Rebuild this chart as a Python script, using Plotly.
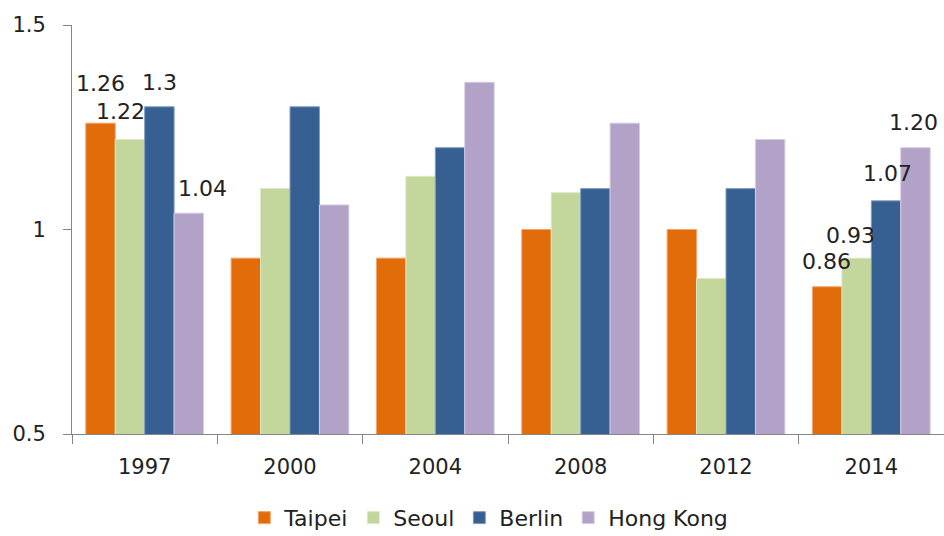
import plotly.graph_objects as go

years = ["1997", "2000", "2004", "2008", "2012", "2014"]
taipei = [1.26, 0.93, 0.93, 1.00, 1.00, 0.86]
seoul = [1.22, 1.10, 1.13, 1.09, 0.88, 0.93]
berlin = [1.30, 1.30, 1.20, 1.10, 1.10, 1.07]
hongkong = [1.04, 1.06, 1.36, 1.26, 1.22, 1.20]

series_names = ["Taipei", "Seoul", "Berlin", "Hong Kong"]
series_vals = [taipei, seoul, berlin, hongkong]
colors = ["#E36C0A", "#C3D69B", "#366092", "#B2A2C7"]
edge_colors = ["#F4A46A", "#DCE8C4", "#7F9CC0", "#D6CCE3"]

labels_1997 = ["1.26", "1.22", "1.3", "1.04"]
labels_2014 = ["0.86", "0.93", "1.07", "1.20"]

FONT = "DejaVu Sans"
W, H = 944, 536
ML, MR, MT, MB = 72, 0, 25, 102
BARGAP = 0.19

fig = go.Figure()
for name, vals, c, ec in zip(series_names, series_vals, colors, edge_colors):
    fig.add_trace(go.Bar(
        x=years, y=vals, name=name,
        marker=dict(color=c, line=dict(color=ec, width=1)),
    ))

# label positions (pixel offsets relative to each bar's centre / top)
plot_w = W - ML - MR
cat_w = plot_w / len(years)
bar_w = cat_w * (1 - BARGAP) / 4
bar_off = [(i - 1.5) * bar_w for i in range(4)]
adj_1997 = [(0, 40), (-9, 28), (0, 24), (14, 25)]
adj_2014 = [(-1, 25), (-6, 23), (1, 27), (-2, 25)]

annotations = []
for i in range(4):
    for yr, lab, adj in (("1997", labels_1997[i], adj_1997[i]),
                         ("2014", labels_2014[i], adj_2014[i])):
        idx = years.index(yr)
        annotations.append(dict(
            x=idx, y=series_vals[i][idx], xref="x", yref="y",
            text=lab, showarrow=False,
            xanchor="center", yanchor="middle",
            xshift=bar_off[i] + adj[0], yshift=adj[1],
            font=dict(family=FONT, size=22, color="#222222"),
        ))

fig.update_layout(
    width=W, height=H,
    margin=dict(l=ML, r=MR, t=MT, b=MB, autoexpand=False),
    paper_bgcolor="white", plot_bgcolor="white",
    barmode="group", bargap=BARGAP, bargroupgap=0,
    font=dict(family=FONT, size=21, color="#222222"),
    showlegend=True,
    legend=dict(orientation="h", x=0.478, xanchor="center",
                y=-0.205, yanchor="middle",
                font=dict(family=FONT, size=22, color="#222222"),
                itemwidth=30, traceorder="normal"),
    annotations=annotations,
)
fig.update_xaxes(
    type="category", categoryorder="array", categoryarray=years,
    range=[-0.5, len(years) - 0.5], tickangle=0, automargin=False,
    showline=True, linecolor="#868686", linewidth=1,
    ticks="outside", tickson="boundaries", ticklen=9, tickcolor="#868686",
    ticklabelstandoff=14, showgrid=False,
    tickfont=dict(family=FONT, size=21, color="#222222"),
)
fig.update_yaxes(
    range=[0.5, 1.5], tickvals=[0.5, 1, 1.5], ticktext=["0.5", "1", "1.5"],
    automargin=False,
    showline=True, linecolor="#868686", linewidth=1,
    ticks="outside", ticklen=8, tickcolor="#868686",
    ticklabelstandoff=13, showgrid=False, zeroline=False,
    tickfont=dict(family=FONT, size=21, color="#222222"),
)

fig.write_html("out.html")
